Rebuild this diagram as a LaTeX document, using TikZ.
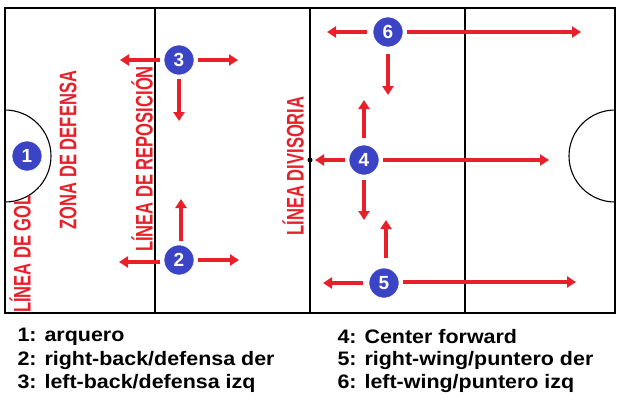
\documentclass[tikz,border=0pt]{standalone}
\usepackage{fontspec}
\setmainfont{Liberation Sans}
\newfontfamily\narrowfont[FakeStretch=0.69]{Liberation Sans}
\newfontfamily\widefont[FakeStretch=1.1]{Liberation Sans}
\usetikzlibrary{arrows.meta}
\definecolor{courtred}{HTML}{E8202A}
\definecolor{playerblue}{HTML}{3A44C4}
\begin{document}
\begin{tikzpicture}[x=1pt,y=-1pt,
		court/.style = {draw=black, line width=1.1pt},
		player/.style = {
			circle, fill=playerblue, draw=white, line width=0.6pt,
			minimum size=30pt, inner sep=0pt,
			text=white, font=\bfseries\fontsize{19}{19}\selectfont
			},
		move/.style = {draw=courtred, line width=3.5pt,
			-{Triangle[length=9pt,width=11pt]}},
		zone/.style = {rotate=90, text=courtred,
			font=\narrowfont\bfseries\fontsize{24}{24}\selectfont},
		legend/.style = {anchor=west, font=\widefont\bfseries\fontsize{19.5}{19.5}\selectfont}
		]
		\useasboundingbox (0,0) rectangle (620,407);
		
		% court
		\draw[court] (5,8) rectangle (615,313);
		\draw[court] (155,8) -- (155,313);
		\draw[court] (310,8) -- (310,313);
		\draw[court] (465,8) -- (465,313);
		\draw[court] (5,110) arc[start angle=-90, end angle=90, radius=46];
		\draw[court] (615,110) arc[start angle=-90, end angle=-270, radius=46];
		\fill (310,160) circle (2.5);
		
		% zone labels
		\node[zone] (gol) at (20,254) {LÍNEA DE GOL};
		\node[zone] (defensa) at (68,150) {ZONA DE DEFENSA};
		\node[zone] (reposicion) at (142,159) {LÍNEA DE REPOSICIÓN};
		\node[zone] (divisoria) at (293,166) {LÍNEA DIVISORIA};
		
		% players
		\node[player] (p1) at (27,156) {1};
		\node[player] (p2) at (179,260) {2};
		\node[player] (p3) at (179,60) {3};
		\node[player] (p4) at (364,160) {4};
		\node[player] (p5) at (384,283) {5};
		\node[player] (p6) at (388,32) {6};
		
		% move ends
		\coordinate (p3l) at (120,60);
		\coordinate (p3r) at (238,60);
		\coordinate (p3d) at (179,121);
		\coordinate (p2l) at (119,262);
		\coordinate (p2r) at (239,260);
		\coordinate (p2u) at (181,199);
		\coordinate (p6l) at (327,32);
		\coordinate (p6r) at (581,32);
		\coordinate (p6d) at (388,95);
		\coordinate (p4l) at (315,160);
		\coordinate (p4r) at (549,160);
		\coordinate (p4u) at (364,100);
		\coordinate (p4d) at (364,220);
		\coordinate (p5l) at (323,283);
		\coordinate (p5r) at (576,282);
		\coordinate (p5u) at (386,220);
		
		\draw[move] (p3.west) ++(-4,0) -- (p3l);
		\draw[move] (p3.east) ++(4,0) -- (p3r);
		\draw[move] (p3.south) ++(0,4) -- (p3d);
		\draw[move] (p2.west) ++(-4,2) -- (p2l);
		\draw[move] (p2.east) ++(4,0) -- (p2r);
		\draw[move] (p2.north) ++(2,-4) -- (p2u);
		\draw[move] (p6.west) ++(-6,0) -- (p6l);
		\draw[move] (p6.east) ++(4,0) -- (p6r);
		\draw[move] (p6.south) ++(0,7) -- (p6d);
		\draw[move] (p4.west) ++(-4,0) -- (p4l);
		\draw[move] (p4.east) ++(4,0) -- (p4r);
		\draw[move] (p4.north) ++(0,-7) -- (p4u);
		\draw[move] (p4.south) ++(0,5) -- (p4d);
		\draw[move] (p5.west) ++(-6,0) -- (p5l);
		\draw[move] (p5.east) ++(4,-1) -- (p5r);
		\draw[move] (p5.north) ++(2,-10) -- (p5u);
		
		% legend
		\node[legend] (l1) at (14,337) {1: arquero};
		\node[legend] (l2) at (14,360) {2: right-back/defensa der};
		\node[legend] (l3) at (14,383) {3: left-back/defensa izq};
		\node[legend] (l4) at (334,337) {4: Center forward};
		\node[legend] (l5) at (334,360) {5: right-wing/puntero der};
		\node[legend] (l6) at (334,383) {6: left-wing/puntero izq};
		
	\end{tikzpicture}
\end{document}
